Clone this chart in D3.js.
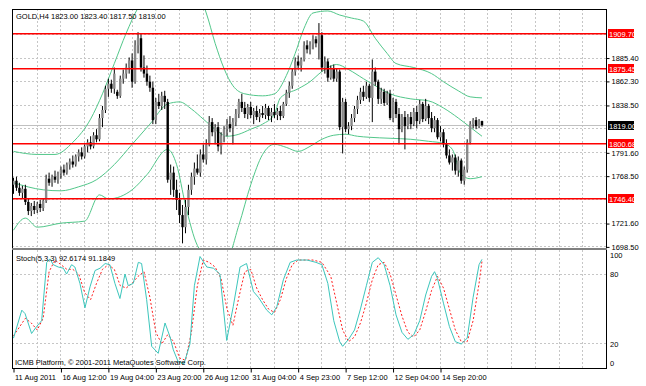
<!DOCTYPE html>
<html>
<head>
<meta charset="utf-8">
<script src="https://cdn.jsdelivr.net/npm/d3@7"></script>
<style>
  body { margin: 0; background: #fff; }
  text { font-family: "Liberation Sans", Arial, sans-serif; font-size: 7.5px; fill: #000; }
</style>
</head>
<body>
<svg id="chart" width="646" height="386"></svg>
<script>
// ---- data ----
var symbolTitle = 'GOLD,H4  1823.00 1823.40 1817.50 1819.00';
var stochTitle = 'Stoch(5,3,3) 92.6174 91.1849';
var copyright = 'ICMB Platform, \u00a9 2001-2011 MetaQuotes Software Corp.';

// one row per H4 bar: open, high, low, close
var candles = [
  [1760,1767,1751,1764],[1764,1768,1754,1757],[1757,1762,1749,1752],[1752,1759,1746,1756],
  [1756,1760,1740,1743],[1743,1746,1730,1734],[1734,1742,1729,1739],[1739,1744,1731,1735],
  [1735,1743,1732,1741],[1741,1745,1733,1737],[1737,1746,1734,1744],[1744,1770,1742,1766],
  [1766,1772,1759,1762],[1762,1770,1758,1768],[1768,1774,1762,1765],[1765,1773,1761,1771],
  [1771,1778,1766,1775],[1775,1780,1769,1772],[1772,1782,1770,1780],[1780,1786,1775,1783],
  [1783,1789,1777,1780],[1780,1790,1778,1788],[1788,1795,1783,1792],[1792,1797,1785,1788],
  [1788,1800,1786,1798],[1798,1805,1792,1802],[1802,1808,1795,1798],[1798,1812,1796,1809],
  [1809,1815,1802,1805],[1805,1830,1803,1826],[1826,1838,1817,1834],[1834,1858,1831,1855],
  [1855,1865,1847,1860],[1860,1864,1851,1855],[1855,1876,1850,1870],[1852,1854,1845,1848],
  [1848,1868,1846,1865],[1865,1874,1860,1870],[1870,1880,1865,1876],[1876,1886,1870,1883],
  [1883,1890,1856,1862],[1862,1903,1860,1898],[1898,1911,1890,1905],[1905,1909,1872,1876],
  [1876,1888,1866,1870],[1870,1878,1858,1862],[1862,1868,1852,1856],[1856,1862,1820,1824],
  [1824,1846,1820,1842],[1842,1850,1835,1838],[1838,1852,1834,1848],[1848,1853,1835,1842],
  [1842,1845,1762,1765],[1765,1780,1750,1772],[1772,1778,1748,1755],[1755,1765,1735,1745],
  [1745,1752,1722,1730],[1730,1740,1702,1718],[1718,1745,1712,1738],[1738,1760,1730,1755],
  [1755,1772,1750,1768],[1768,1782,1760,1776],[1776,1790,1770,1772],[1772,1795,1768,1790],
  [1790,1800,1782,1785],[1785,1805,1780,1800],[1800,1828,1798,1822],[1822,1826,1808,1812],
  [1812,1820,1800,1817],[1817,1822,1793,1798],[1798,1812,1790,1808],[1808,1818,1802,1815],
  [1815,1825,1808,1820],[1820,1828,1812,1816],[1816,1826,1800,1822],[1822,1835,1818,1830],
  [1830,1845,1826,1842],[1842,1850,1832,1836],[1836,1842,1826,1830],[1830,1840,1825,1837],
  [1837,1842,1826,1829],[1829,1836,1820,1833],[1833,1838,1824,1827],[1827,1835,1822,1831],
  [1831,1838,1826,1829],[1829,1840,1825,1836],[1836,1838,1824,1828],[1828,1836,1822,1832],
  [1832,1840,1826,1829],[1829,1836,1824,1833],[1833,1838,1824,1828],[1828,1842,1826,1840],
  [1840,1854,1838,1851],[1851,1862,1846,1858],[1858,1875,1855,1872],[1872,1886,1868,1882],
  [1882,1888,1874,1878],[1878,1886,1872,1884],[1884,1902,1882,1898],[1898,1903,1890,1894],
  [1894,1902,1889,1899],[1899,1908,1894,1904],[1904,1907,1896,1900],[1900,1920,1884,1908],
  [1908,1911,1872,1876],[1876,1887,1870,1882],[1882,1885,1862,1866],[1866,1878,1864,1875],
  [1875,1879,1862,1865],[1865,1875,1862,1872],[1872,1874,1814,1817],[1817,1846,1791,1842],
  [1842,1845,1812,1815],[1815,1822,1810,1818],[1818,1830,1814,1826],[1826,1838,1822,1835],
  [1835,1848,1830,1844],[1844,1856,1840,1852],[1852,1858,1843,1847],[1847,1862,1845,1858],
  [1858,1860,1842,1846],[1846,1884,1822,1872],[1872,1876,1858,1862],[1862,1864,1840,1845],
  [1845,1856,1840,1852],[1852,1855,1838,1841],[1841,1853,1839,1850],[1850,1854,1824,1826],
  [1826,1846,1822,1842],[1842,1845,1826,1830],[1830,1836,1800,1815],[1815,1830,1812,1827],
  [1827,1833,1795,1818],[1818,1830,1815,1827],[1827,1832,1815,1820],[1820,1836,1818,1832],
  [1832,1838,1816,1823],[1823,1844,1820,1840],[1840,1842,1822,1825],[1825,1845,1823,1838],
  [1838,1840,1820,1826],[1826,1832,1812,1816],[1816,1828,1812,1824],[1824,1826,1805,1807],
  [1807,1818,1803,1812],[1812,1815,1797,1800],[1800,1805,1786,1789],[1789,1795,1780,1782],
  [1782,1790,1774,1787],[1787,1790,1770,1774],[1774,1788,1768,1784],[1784,1786,1761,1764],
  [1764,1778,1760,1775],[1775,1805,1772,1802],[1802,1823,1800,1820],[1820,1826,1816,1824],
  [1824,1827,1815,1818],[1818,1825,1816,1823],[1823,1823.4,1817.5,1819]
];

// Bollinger bands, [bar, price] vertices
var bandUpper = [[0,1793],[8,1790],[14,1790],[20,1802],[26,1825],[30,1850],[34,1880],[38,1910],[42,1935],[46,1950],
  [62,1950],[65,1930],[68,1900],[71,1875],[74,1858],[78,1850],[84,1848],[88,1850],[92,1868],[95,1890],[98,1915],
  [101,1930],[106,1932],[110,1928],[114,1925],[118,1922],[122,1905],[126,1890],[129,1880],[135,1876],[141,1870],
  [145,1862],[150,1853],[154,1847],[158,1846]];
var bandMiddle = [[0,1762],[10,1755],[16,1754],[22,1758],[28,1765],[34,1780],[40,1800],[46,1820],[52,1840],[56,1842],
  [60,1835],[64,1825],[68,1815],[72,1808],[76,1810],[80,1815],[84,1820],[88,1830],[90,1846],[96,1855],[100,1862],
  [104,1872],[109,1879],[113,1874],[118,1865],[122,1858],[127,1850],[134,1845],[140,1843],[145,1836],[150,1826],
  [154,1817],[158,1808]];
var bandLower = [[0,1715],[4,1727],[8,1718],[16,1722],[24,1724],[29,1750],[32,1746],[40,1755],[45,1770],[52,1795],
  [55,1780],[58,1740],[62,1700],[66,1688],[72,1688],[76,1720],[80,1760],[84,1790],[88,1800],[92,1797],[96,1793],
  [100,1798],[104,1805],[108,1809],[112,1810],[116,1808],[120,1807],[127,1806],[134,1805],[140,1803],[145,1801],
  [148,1795],[151,1770],[154,1766],[158,1768]];

// Stochastic %K and %D, [bar, value] vertices
var stochK = [[0,25],[2.8,49],[3.9,46],[6.1,29],[7.8,35],[9.5,40],[11.2,90],[12.3,93],[13.4,88],[15.1,86],[16.8,85],
  [17.9,80],[19.6,88],[20.7,86],[22.4,72],[24.1,51],[25.8,69],[27.5,83],[29.2,85],[30.9,89],[32.5,88],[34.2,72],
  [35.9,59],[37.6,80],[38.7,70],[40.4,72],[42.1,90],[43.2,89],[44.9,58],[46.6,18],[48.8,12],[51.1,38],[52.8,26],
  [53.9,15],[55.5,5],[57.5,3],[59.5,20],[61,70],[62.9,95],[65.2,86],[67.4,85],[69.6,80],[71.9,23],[74.1,52],
  [76.4,86],[78.6,89],[80.9,65],[82.6,60],[85.4,49],[87.1,45],[88.8,52],[91,75],[93.3,90],[95.5,92],[99,92],
  [102,90],[104,88],[106,72],[108,40],[110,22],[111,18],[113,24],[115,32],[117,50],[119,70],[121,90],[123,94],
  [125,88],[127,70],[129,45],[131,30],[133,24],[135,28],[137,40],[139,62],[141,78],[142,82],[143,76],[145,55],
  [147,35],[149,22],[151,20],[153,25],[155,60],[157,88],[158,92.6]];
var stochD = [[0,27],[4,42],[6,38],[8,32],[10,42],[12,82],[14,92],[16,88],[18,84],[20,84],[22,80],[24,64],[26,58],
  [28,72],[30,84],[32,88],[34,84],[36,70],[38,68],[40,72],[42,78],[44,82],[46,60],[48,30],[50,20],[52,28],[54,22],
  [56,8],[58,6],[60,30],[62,70],[64,92],[66,90],[68,86],[70,76],[72,50],[74,36],[76,60],[78,82],[80,84],[82,68],
  [84,58],[86,50],[88,47],[90,58],[92,76],[94,88],[96,92],[98,92],[101,92],[104,90],[107,78],[109,55],[111,32],
  [113,22],[115,26],[117,38],[119,55],[121,75],[123,88],[125,90],[127,80],[129,62],[131,44],[133,30],[135,26],
  [137,32],[139,48],[141,66],[143,78],[145,68],[147,50],[149,32],[151,22],[153,22],[155,40],[157,72],[158,91.2]];

// horizontal levels drawn in red, and the last price
var levels = [1909.70, 1875.45, 1800.68, 1746.40];
var lastPrice = 1819.00;

// grid rows; the labelled ones are those not hidden under a level tag
var gridPrices = [1908.70, 1885.40, 1862.30, 1838.50, 1815.40, 1791.60, 1768.50, 1745.20, 1721.60, 1698.50];
var priceTicks = [1885.40, 1862.30, 1838.50, 1791.60, 1768.50, 1721.60, 1698.50];
var timeTicks = [0, 16, 32, 48, 64, 80, 96, 112, 128, 144];
var timeLabels = ['11 Aug 2011', '16 Aug 12:00', '19 Aug 04:00', '23 Aug 20:00', '26 Aug 12:00',
  '31 Aug 04:00', '4 Sep 23:00', '7 Sep 12:00', '12 Sep 04:00', '14 Sep 20:00'];
var stochLevels = [100, 80, 20, 0];

// ---- layout ----
var left = 12, right = 606;
var mainTop = 9, mainBottom = 248;
var stoTop = 250, stoBottom = 368;

var x = d3.scaleLinear().domain([0, 144]).range([13.5, 440.5]);
var y = d3.scaleLinear().domain([1698.5, 1885.4]).range([246.9, 58.05]);
var ys = d3.scaleLinear().domain([0, 100]).range([367.3, 250.7]);

function crisp(v) { return Math.floor(v) + 0.5; }

var svg = d3.select('#chart');
var defs = svg.append('defs');
defs.append('clipPath').attr('id', 'clipMain').append('rect')
  .attr('x', left).attr('y', mainTop).attr('width', right - left).attr('height', mainBottom - mainTop);
defs.append('clipPath').attr('id', 'clipSto').append('rect')
  .attr('x', left).attr('y', stoTop).attr('width', right - left).attr('height', stoBottom - stoTop);

// grid
var gridX = d3.range(8, 200, 8).map(function (b) { return x(b); }).filter(function (v) { return v < right - 1; });
var grid = svg.append('g').attr('stroke', '#c6c6c6').attr('stroke-dasharray', '2,2').attr('shape-rendering', 'crispEdges');
grid.selectAll('.vm').data(gridX).enter().append('line')
  .attr('x1', crisp).attr('x2', crisp).attr('y1', mainTop).attr('y2', mainBottom);
grid.selectAll('.vs').data(gridX).enter().append('line')
  .attr('x1', crisp).attr('x2', crisp).attr('y1', stoTop).attr('y2', stoBottom);
grid.selectAll('.hm').data(gridPrices).enter().append('line')
  .attr('x1', left).attr('x2', right)
  .attr('y1', function (d) { return crisp(y(d)); }).attr('y2', function (d) { return crisp(y(d)); });
grid.selectAll('.hs').data([80, 20]).enter().append('line')
  .attr('x1', left).attr('x2', right)
  .attr('y1', function (d) { return crisp(ys(d)); }).attr('y2', function (d) { return crisp(ys(d)); });

// last price line
svg.append('rect').attr('x', left).attr('width', right - left)
  .attr('y', Math.floor(y(lastPrice))).attr('height', 1).attr('fill', '#c0c0c0');

// bands
var main = svg.append('g').attr('clip-path', 'url(#clipMain)');
var bandLine = d3.line()
  .x(function (d) { return x(d[0]); })
  .y(function (d) { return y(d[1]); })
  .curve(d3.curveMonotoneX);
[bandUpper, bandMiddle, bandLower].forEach(function (b) {
  main.append('path').attr('d', bandLine(b)).attr('fill', 'none')
    .attr('stroke', '#52c78a').attr('stroke-width', 1);
});

// red levels
svg.append('g').attr('class', 'levels').selectAll('rect').data(levels).enter().append('rect')
  .attr('x', left).attr('width', right - left)
  .attr('y', function (d) { return Math.floor(y(d)); }).attr('height', 1.5)
  .attr('fill', '#ff0000');

// candles
var bars = main.append('g').selectAll('g').data(candles).enter().append('g');
bars.append('line')
  .attr('x1', function (d, i) { return x(i); }).attr('x2', function (d, i) { return x(i); })
  .attr('y1', function (d) { return y(d[1]); }).attr('y2', function (d) { return y(d[2]); })
  .attr('stroke', '#000').attr('stroke-width', 1);
bars.append('rect')
  .attr('x', function (d, i) { return x(i) - 1.2; })
  .attr('width', 2.4)
  .attr('y', function (d) { return y(Math.max(d[0], d[3])); })
  .attr('height', function (d) { return Math.max(1, Math.abs(y(d[0]) - y(d[3]))); })
  .attr('fill', function (d) { return d[3] >= d[0] ? '#8a8a8a' : '#000'; });

// stochastic
var sto = svg.append('g').attr('clip-path', 'url(#clipSto)');
var stoLine = d3.line()
  .x(function (d) { return x(d[0]); })
  .y(function (d) { return ys(d[1]); });
sto.append('path').attr('d', stoLine(stochD)).attr('fill', 'none')
  .attr('stroke', '#ff2020').attr('stroke-dasharray', '2,2');
sto.append('path').attr('d', stoLine(stochK)).attr('fill', 'none')
  .attr('stroke', '#3cc6bc');

// frames
var frame = svg.append('g').attr('fill', 'none').attr('shape-rendering', 'crispEdges');
frame.append('rect').attr('x', left + 0.5).attr('y', mainTop + 0.5)
  .attr('width', right - left).attr('height', stoBottom - mainTop).attr('stroke', '#000');
frame.append('line').attr('x1', left).attr('x2', right + 1)
  .attr('y1', mainBottom + 0.5).attr('y2', mainBottom + 0.5).attr('stroke', '#808080').attr('stroke-width', 2);

// price axis
var yAxis = d3.axisRight(y).tickValues(priceTicks).tickFormat(d3.format('.2f')).tickSize(3).tickPadding(2);
var ya = svg.append('g').attr('transform', 'translate(' + (right + 0.5) + ',0)').call(yAxis);
ya.select('.domain').remove();
ya.selectAll('text').style('font-family', '"Liberation Sans", Arial, sans-serif').style('font-size', '7.5px');

// level labels
var tags = svg.append('g');
function tag(v, fill) {
  var yy = Math.floor(y(v)) + 0.5;
  tags.append('rect').attr('x', right + 2).attr('y', yy - 4.5).attr('width', 26).attr('height', 9).attr('fill', fill);
  tags.append('text').attr('x', right + 3).attr('y', yy + 3).style('fill', '#fff')
    .text(d3.format('.2f')(v));
}
levels.forEach(function (v) { tag(v, '#ff0000'); });
tag(lastPrice, '#000');

// stochastic scale labels
svg.append('g').selectAll('text').data(stochLevels).enter().append('text')
  .attr('x', right + 4)
  .attr('y', function (d) { return ys(d) + (d === 100 ? 7 : (d === 0 ? -1 : 3)); })
  .text(function (d) { return d; });

// time axis
var xAxis = d3.axisBottom(x).tickValues(timeTicks)
  .tickFormat(function (d, i) { return timeLabels[i]; }).tickSize(4).tickPadding(2);
var xa = svg.append('g').attr('transform', 'translate(0,' + (stoBottom + 0.5) + ')').call(xAxis);
xa.select('.domain').remove();
xa.selectAll('text').attr('text-anchor', 'start').attr('x', 1)
  .style('font-family', '"Liberation Sans", Arial, sans-serif').style('font-size', '7.5px');

// titles
svg.append('text').attr('x', 16).attr('y', 19).text(symbolTitle);
svg.append('text').attr('x', 16).attr('y', 261).text(stochTitle);
svg.append('text').attr('x', 15).attr('y', 365).text(copyright);
</script>
</body>
</html>
